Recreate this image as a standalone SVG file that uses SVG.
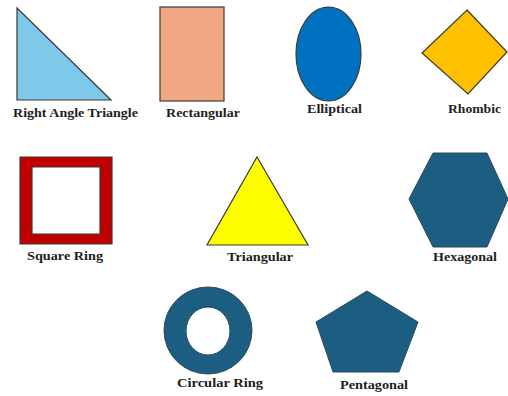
<svg xmlns="http://www.w3.org/2000/svg" width="508" height="396" viewBox="0 0 508 396">
<style>
.lbl{font-family:"Liberation Serif","Times New Roman",serif;font-weight:bold;font-size:12px;fill:#1e1e1e;text-anchor:middle}
.sh{stroke:#3b3b30;stroke-width:1.2}
.teal{fill:#1b5e82;stroke:#2a4a5a;stroke-width:1}
</style>
<rect width="508" height="396" fill="#ffffff"/>
<g id="right-angle-triangle">
<polygon class="sh" points="17,8 17,100 111,100" fill="#7ec8ea"/>
<text class="lbl" x="75.5" y="117" textLength="125" lengthAdjust="spacingAndGlyphs">Right Angle Triangle</text>
</g>
<g id="rectangular">
<rect class="sh" x="160" y="7" width="64" height="94" fill="#f2a884"/>
<text class="lbl" x="203" y="117" textLength="74" lengthAdjust="spacingAndGlyphs">Rectangular</text>
</g>
<g id="elliptical">
<ellipse class="sh" cx="328.5" cy="54" rx="32.5" ry="47" fill="#0070c0"/>
<text class="lbl" x="334.5" y="113" textLength="55" lengthAdjust="spacingAndGlyphs">Elliptical</text>
</g>
<g id="rhombic">
<polygon class="sh" points="467,10 507,52 468,94 422,53" fill="#ffc000"/>
<text class="lbl" x="474.5" y="113" textLength="53" lengthAdjust="spacingAndGlyphs">Rhombic</text>
</g>
<g id="square-ring">
<path class="sh" fill="#c00000" fill-rule="evenodd" d="M20,157 H112 V244 H20 Z M32,167 V234 H100 V167 Z"/>
<text class="lbl" x="65" y="260" textLength="76" lengthAdjust="spacingAndGlyphs">Square Ring</text>
</g>
<g id="triangular">
<polygon class="sh" points="257,157 308,245 207,245" fill="#ffff00"/>
<text class="lbl" x="260" y="261" textLength="66" lengthAdjust="spacingAndGlyphs">Triangular</text>
</g>
<g id="hexagonal">
<polygon class="teal" points="409,199 433,153 487,153 508,199 487,247 433,247"/>
<text class="lbl" x="465" y="261" textLength="64" lengthAdjust="spacingAndGlyphs">Hexagonal</text>
</g>
<g id="circular-ring">
<path class="teal" fill-rule="evenodd" d="M164,330.5 A44,43.5 0 1,0 252,330.5 A44,43.5 0 1,0 164,330.5 Z M186,331 A22,24 0 1,1 230,331 A22,24 0 1,1 186,331 Z"/>
<text class="lbl" x="220" y="387" textLength="86" lengthAdjust="spacingAndGlyphs">Circular Ring</text>
</g>
<g id="pentagonal">
<polygon class="teal" points="367,291 418,322 399,372 333,372 316,322"/>
<text class="lbl" x="374" y="389" textLength="68" lengthAdjust="spacingAndGlyphs">Pentagonal</text>
</g>
<g id="connectors"></g>
</svg>
